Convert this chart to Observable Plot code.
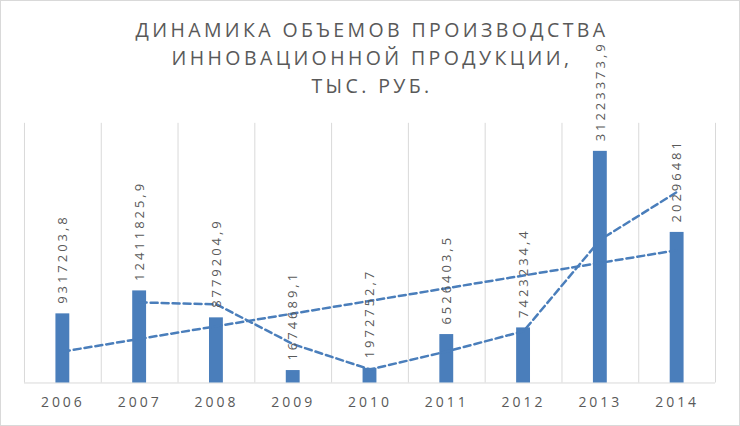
<!DOCTYPE html>
<html>
<head>
<meta charset="utf-8">
<script src="https://cdn.jsdelivr.net/npm/d3@7"></script>
<script src="https://cdn.jsdelivr.net/npm/@observablehq/plot@0.6"></script>
<style>
  html, body { margin: 0; padding: 0; background: #fff; }
  #frame { position: relative; width: 740px; height: 426px; box-sizing: border-box; border: 1px solid #d9d9d9; overflow: hidden; }
  #chart { position: absolute; left: -1px; top: -1px; }
  #title { position: absolute; z-index: 2; left: 0; top: 15px; width: 738px; padding-left: 4px; box-sizing: border-box; text-align: center; font-family: "Open Sans", sans-serif; font-size: 19.5px; line-height: 28px; letter-spacing: 3.4px; color: #595959; }
</style>
</head>
<body>
<div id="frame">
  <div id="chart"></div>
  <div id="title">ДИНАМИКА ОБЪЕМОВ ПРОИЗВОДСТВА<br>ИННОВАЦИОННОЙ ПРОДУКЦИИ,<br>ТЫС. РУБ.</div>
</div>
<script>
const years = [2006, 2007, 2008, 2009, 2010, 2011, 2012, 2013, 2014];
const values = [9317203.8, 12411825.9, 8779204.9, 1674689.1, 1972752.7, 6526403.5, 7423234.4, 31223373.9, 20296481];
const labels = ["9317203,8", "12411825,9", "8779204,9", "1674689,1", "1972752,7", "6526403,5", "7423234,4", "31223373,9", "20296481"];

const data = years.map((year, i) => ({year, value: values[i], label: labels[i]}));
const edges = d3.range(years[0] - 0.5, years[years.length - 1] + 1, 1);

const color = "#4a7ebb";

const plot = Plot.plot({
  width: 740,
  height: 426,
  marginTop: 123,
  marginBottom: 43,
  marginLeft: 24,
  marginRight: 24,
  x: {domain: [years[0] - 0.5, years[years.length - 1] + 0.5], ticks: years, tickFormat: d => String(d), tickSize: 0, tickPadding: 14, label: null},
  y: {domain: [0, 35000000], axis: null},
  style: {fontFamily: "Open Sans, sans-serif", fontSize: "14px", color: "#595959", letterSpacing: "3px", background: "transparent"},
  marks: [
    Plot.ruleX(edges, {stroke: "#d9d9d9", strokeWidth: 1}),
    Plot.ruleY([0], {stroke: "#d9d9d9", strokeWidth: 1}),
    Plot.rectY(data, {x1: d => d.year - 0.5, x2: d => d.year + 0.5, y: "value", fill: color, insetLeft: 31.5, insetRight: 31.5}),
    Plot.linearRegressionY(data, {x: "year", y: "value", ci: 0, stroke: color, strokeWidth: 2.5, strokeDasharray: "7,4"}),
    Plot.lineY(data, Plot.windowY({k: 2, anchor: "end", strict: true}, {x: "year", y: "value", stroke: color, strokeWidth: 2.5, strokeDasharray: "7,4"})),
    Plot.text(data, {x: "year", y: "value", text: "label", rotate: -90, textAnchor: "start", dy: -10, fill: "#595959", fontSize: 13, style: "letter-spacing:0.6px"})
  ]
});
document.getElementById("chart").appendChild(plot);
</script>
</body>
</html>
